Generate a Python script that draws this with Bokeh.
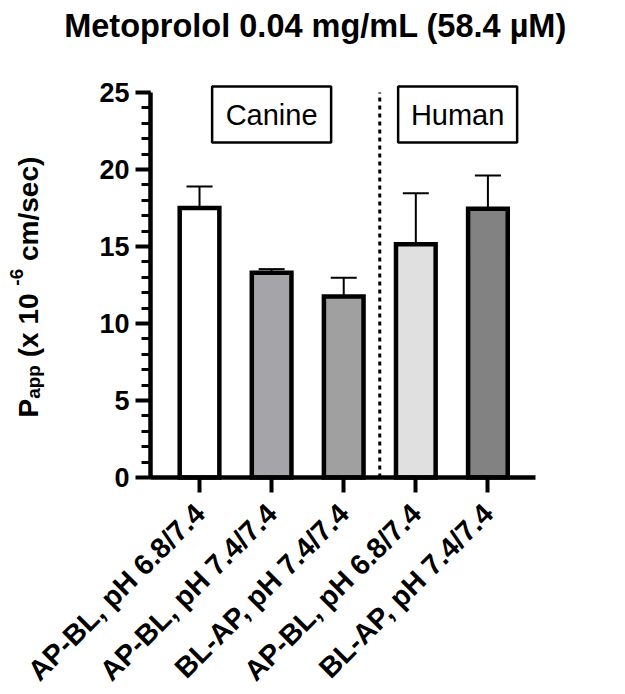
import math
from bokeh.plotting import figure
from bokeh.models import Range1d, FixedTicker, Whisker, TeeHead, ColumnDataSource
from bokeh.core.properties import value
from bokeh.embed import file_html
from bokeh.resources import INLINE

# ---------------- data ----------------
title_text = "Metoprolol 0.04 mg/mL (58.4 µM)"
categories = ["AP-BL, pH 6.8/7.4", "AP-BL, pH 7.4/7.4", "BL-AP, pH 7.4/7.4",
              "AP-BL, pH 6.8/7.4", "BL-AP, pH 7.4/7.4"]
species = ["Canine", "Canine", "Canine", "Human", "Human"]
papp_mean = [17.5, 13.3, 11.75, 15.15, 17.45]
papp_sd = [1.4, 0.23, 1.22, 3.31, 2.16]
bar_colors = ["#ffffff", "#a5a4a9", "#a0a0a0", "#e0e0e0", "#828282"]
y_ticks = [0, 5, 10, 15, 20, 25]
y_minor_ticks = list(range(0, 26))
group_names = ["Canine", "Human"]

# ---------------- layout constants (pixels) ----------------
W, H = 625, 694
AX_X0, AX_X1 = -0.68, 4.66     # extent of the x axis in data units
AX_Y0, AX_Y1 = 0, 25           # extent of the y axis
AX_LEFT, AX_RIGHT = 150, 535   # pixel position of the axes box
AX_TOP, AX_BOTTOM = 92, 477
FONT = "Liberation Sans"

PXX = (AX_RIGHT - AX_LEFT) / (AX_X1 - AX_X0)
PXY = (AX_BOTTOM - AX_TOP) / (AX_Y1 - AX_Y0)

def xd(px):  # pixel -> data x
    return AX_X0 + (px - AX_LEFT) / PXX

def yd(py):  # pixel -> data y
    return AX_Y0 + (AX_BOTTOM - py) / PXY

xs = list(range(len(categories)))
source = ColumnDataSource(dict(
    x=xs,
    mean=papp_mean,
    upper=[m + s for m, s in zip(papp_mean, papp_sd)],
    color=bar_colors,
))

p = figure(width=W, height=H, min_border=0,
           x_range=Range1d(xd(0), xd(W)), y_range=Range1d(yd(H), yd(0)),
           toolbar_location=None, output_backend="svg")
p.xgrid.visible = False
p.ygrid.visible = False
p.outline_line_color = None
p.background_fill_color = "white"
p.border_fill_color = "white"

# error bars (upper only)
p.add_layout(Whisker(source=source, base="x", lower="mean", upper="upper",
                     dimension="height", line_width=2, line_color="black",
                     upper_head=TeeHead(size=26, line_width=2, line_color="black"),
                     lower_head=None))

# bars
p.vbar(x="x", top="mean", bottom=0, width=0.55, source=source,
       fill_color="color", line_color="black", line_width=4.5, line_join="miter")

# dotted divider between species
n_canine = species.count("Canine")
p.segment(x0=[n_canine - 0.5], y0=[AX_Y0], x1=[n_canine - 0.5], y1=[AX_Y1],
          line_color="black", line_width=3, line_dash="4 4")

# group boxes
group_x = [1.0, 3.58]
group_y = [yd(114)] * len(group_names)
p.rect(x=group_x, y=group_y, width=119, height=56, width_units="screen",
       height_units="screen", fill_color="white", line_color="black",
       line_width=2.5)
p.text(x=group_x, y=group_y, text=group_names, text_align="center",
       text_baseline="middle", text_font=value(FONT), text_font_size="29px",
       text_color="black")

# axes (kept at the data positions of the original axes box)
ya = p.yaxis[0]
ya.fixed_location = AX_X0
ya.bounds = (AX_Y0, AX_Y1)
ya.ticker = FixedTicker(ticks=y_ticks, minor_ticks=y_minor_ticks)
ya.axis_line_width = 4.5
ya.major_tick_line_width = 4
ya.minor_tick_line_width = 3
ya.major_tick_out = 15
ya.major_tick_in = 0
ya.minor_tick_out = 9
ya.minor_tick_in = 0
ya.major_label_text_font = FONT
ya.major_label_text_font_style = "bold"
ya.major_label_text_font_size = "27px"
ya.major_label_text_color = "black"
ya.major_label_standoff = 6

xa = p.xaxis[0]
xa.fixed_location = AX_Y0
xa.bounds = (AX_X0, AX_X1)
xa.ticker = FixedTicker(ticks=xs, minor_ticks=[])
xa.major_label_overrides = {i: c for i, c in zip(xs, categories)}
xa.axis_line_width = 4.5
xa.major_tick_line_width = 4
xa.major_tick_out = 15
xa.major_tick_in = 0
xa.minor_tick_out = 0
xa.minor_tick_in = 0
xa.major_label_orientation = math.pi / 4
xa.major_label_text_font = FONT
xa.major_label_text_font_style = "bold"
xa.major_label_text_font_size = "28.5px"
xa.major_label_text_color = "black"
xa.major_label_standoff = 16

# title
p.text(x=[xd(315)], y=[yd(25)], text=[title_text], text_align="center",
       text_baseline="alphabetic", text_font=value(FONT),
       text_font_style="bold", text_font_size="32.5px", text_color="black")

# y-axis label with subscript / superscript (spaces are advances only)
bold_w = {'P': .667, 'a': .556, 'p': .611, ' ': .278, '(': .333, 'x': .556,
          '1': .556, '0': .556, '-': .333, '6': .556, 'c': .556, 'm': .889,
          '/': .278, 's': .556, 'e': .556, ')': .333}
pieces = [("P", 28, 0), ("app", 19, -5), (" ", 28, 0), ("(x 10", 28, 0),
          (" ", 28, 0), ("-6", 19, 12), (" ", 28, 0), ("cm/sec)", 28, 0)]
base_x = 28      # anchor pixel position of the main text line
cur = 417        # pixel where the label starts (bottom)
for txt, size, shift in pieces:
    if txt.strip():
        p.text(x=[xd(base_x - shift)], y=[yd(cur)], text=[txt],
               angle=math.pi / 2, text_align="left",
               text_baseline="alphabetic", text_font=value(FONT),
               text_font_style="bold", text_font_size=f"{size}px",
               text_color="black")
    cur -= sum(bold_w[ch] for ch in txt) * size

open("out.html", "w").write(file_html(p, INLINE))
